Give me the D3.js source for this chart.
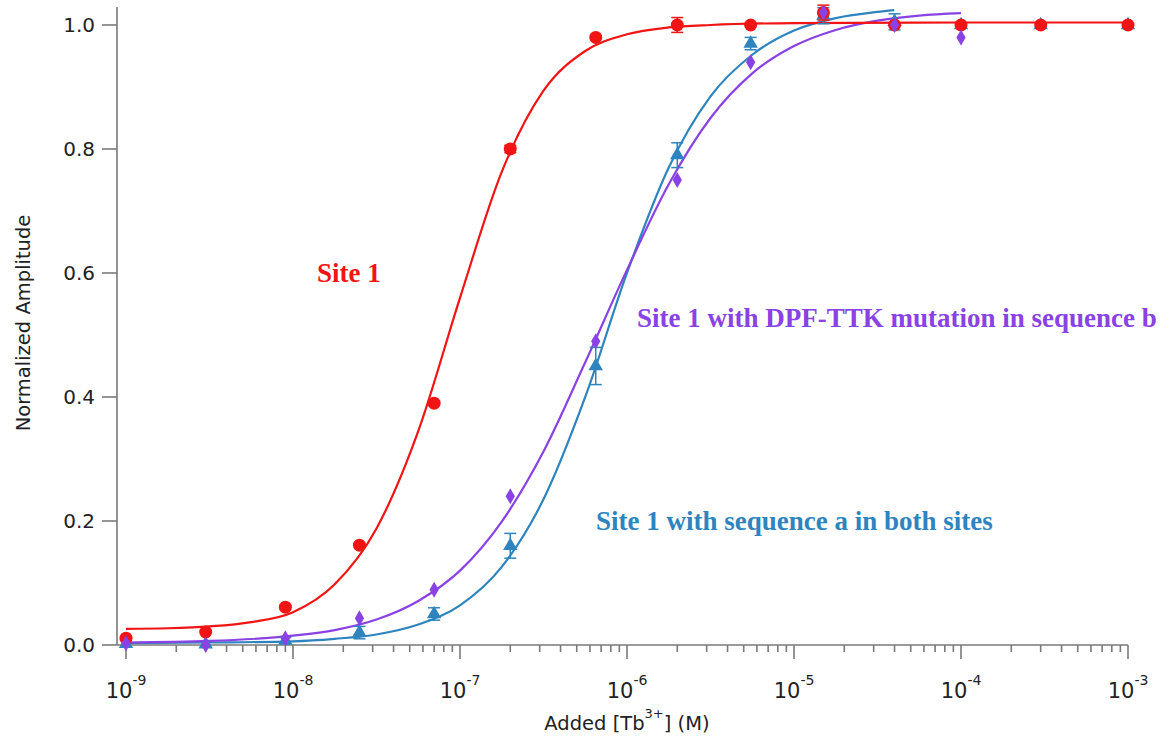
<!DOCTYPE html>
<html>
<head>
<meta charset="utf-8">
<script src="https://cdn.jsdelivr.net/npm/d3@7"></script>
<style>
  html, body { margin: 0; padding: 0; background: #fff; }
  svg { display: block; }
</style>
</head>
<body>
<svg id="chart" width="1175" height="740"></svg>
<script>
// Tb3+ titration: normalized amplitude vs. added [Tb3+]

// x-axis decades (exponents of 10) and y-axis ticks
const xDecades = [-9, -8, -7, -6, -5, -4, -3];
const yTickValues = [0, 0.2, 0.4, 0.6, 0.8, 1.0];

// measured concentrations (M)
const concentrations = [1e-9, 3e-9, 9e-9, 2.5e-8, 7e-8, 2e-7, 6.5e-7, 2e-6, 5.5e-6, 1.5e-5, 4e-5, 1e-4, 3e-4, 1e-3];

// Site 1
const site1Amp = [0.011, 0.021, 0.061, 0.161, 0.39, 0.80, 0.98, 1.0, 1.0, 1.02, 1.0, 1.0, 1.0, 1.0];
const site1Err = [0, 0, 0, 0, 0, 0.006, 0, 0.012, 0, 0.012, 0, 0, 0, 0];

// Site 1 with sequence a in both sites
const seqAAmp = [0.002, 0.001, 0.007, 0.02, 0.05, 0.16, 0.45, 0.79, 0.97, 1.015, 1.005, 1.0, 1.0, 1.0];
const seqAErr = [0, 0, 0.005, 0.01, 0.01, 0.02, 0.03, 0.02, 0.01, 0.013, 0.013, 0, 0, 0];

// Site 1 with DPF-TTK mutation in sequence b (measured up to 1e-4 M)
const dpfAmp = [0.003, 0.0, 0.011, 0.043, 0.089, 0.24, 0.49, 0.75, 0.94, 1.02, 1.0, 0.98];

// fitted binding curves, sampled at log10 concentration
const site1FitLog = [-9, -8.75, -8.5, -8.25, -8, -7.75, -7.5, -7.25, -7, -6.75, -6.5, -6.25, -6, -5.75, -5.5, -5, -4, -3];
const site1FitAmp = [0.026, 0.027, 0.030, 0.037, 0.053, 0.098, 0.188, 0.345, 0.560, 0.763, 0.894, 0.958, 0.985, 0.996, 1.000, 1.003, 1.004, 1.004];

const seqAFitLog = [-9, -8.5, -8, -7.75, -7.5, -7.25, -7, -6.75, -6.5, -6.25, -6, -5.75, -5.5, -5.25, -5, -4.75, -4.5, -4.4];
const seqAFitAmp = [0.003, 0.004, 0.006, 0.010, 0.017, 0.033, 0.064, 0.126, 0.235, 0.400, 0.600, 0.770, 0.885, 0.952, 0.991, 1.011, 1.021, 1.024];

const dpfFitLog = [-9, -8.5, -8, -7.75, -7.5, -7.25, -7, -6.75, -6.5, -6.25, -6, -5.75, -5.5, -5.25, -5, -4.75, -4.5, -4.25, -4];
const dpfFitAmp = [0.004, 0.0065, 0.015, 0.024, 0.041, 0.071, 0.120, 0.199, 0.312, 0.456, 0.605, 0.743, 0.850, 0.922, 0.966, 0.992, 1.007, 1.015, 1.019];

const colors = { site1: "#f01414", seqA: "#2e84bf", dpf: "#8a42e4" };
const axisColor = "#7a7a7a";

const svg = d3.select("#chart");

const x = d3.scaleLog().domain([1e-9, 1e-3]).range([126, 1128]);
const y = d3.scaleLinear().domain([0, 1.029]).range([645, 7]);
const axisLeftX = 117;

// ---- axes ----
const axes = svg.append("g").attr("stroke", axisColor).attr("stroke-width", 1.6).attr("fill", "none");

// axis lines
axes.append("line").attr("x1", axisLeftX).attr("x2", axisLeftX).attr("y1", y.range()[1]).attr("y2", y(0));
axes.append("line").attr("x1", axisLeftX).attr("x2", x(1e-3)).attr("y1", y(0)).attr("y2", y(0));

// y ticks
yTickValues.forEach(v => {
  axes.append("line").attr("x1", axisLeftX - 15).attr("x2", axisLeftX).attr("y1", y(v)).attr("y2", y(v));
});

// x major and minor ticks
xDecades.forEach((e, i) => {
  const base = Math.pow(10, e);
  axes.append("line").attr("x1", x(base)).attr("x2", x(base)).attr("y1", y(0)).attr("y2", y(0) + 14);
  if (i < xDecades.length - 1) {
    for (let m = 2; m <= 9; m++) {
      const xv = x(base * m);
      axes.append("line").attr("x1", xv).attr("x2", xv).attr("y1", y(0)).attr("y2", y(0) + 7);
    }
  }
});

// tick labels
const labels = svg.append("g").attr("font-family", "'DejaVu Sans', sans-serif").attr("fill", "#222");

yTickValues.forEach(v => {
  labels.append("text")
    .attr("x", 95).attr("y", y(v)).attr("dy", "0.36em")
    .attr("text-anchor", "end").attr("font-size", 20)
    .text(d3.format(".1f")(v));
});

xDecades.forEach(e => {
  const t = labels.append("text")
    .attr("x", x(Math.pow(10, e))).attr("y", 698)
    .attr("text-anchor", "middle").attr("font-size", 21);
  t.append("tspan").text("10");
  t.append("tspan").attr("dy", -13).attr("font-size", 14).text(String(e));
});

// axis titles
const xTitle = labels.append("text")
  .attr("x", (x.range()[0] + x.range()[1]) / 2).attr("y", 730)
  .attr("text-anchor", "middle").attr("font-size", 19.5);
xTitle.append("tspan").text("Added [Tb");
xTitle.append("tspan").attr("dy", -12).attr("font-size", 13).text("3+");
xTitle.append("tspan").attr("dy", 12).text("] (M)");

labels.append("text")
  .attr("transform", "translate(30,323) rotate(-90)")
  .attr("text-anchor", "middle").attr("font-size", 19.5)
  .text("Normalized Amplitude");

// ---- fitted curves ----
const fitLine = d3.line()
  .x(d => x(Math.pow(10, d[0])))
  .y(d => y(d[1]))
  .curve(d3.curveMonotoneX);

const curves = svg.append("g").attr("fill", "none").attr("stroke-width", 2.2);
curves.append("path").attr("stroke", colors.seqA).attr("d", fitLine(d3.zip(seqAFitLog, seqAFitAmp)));
curves.append("path").attr("stroke", colors.dpf).attr("d", fitLine(d3.zip(dpfFitLog, dpfFitAmp)));
curves.append("path").attr("stroke", colors.site1).attr("d", fitLine(d3.zip(site1FitLog, site1FitAmp)));

// ---- data points ----
function errorBars(g, conc, amp, err, color) {
  conc.forEach((c, i) => {
    if (!err[i]) return;
    const cx = x(c), top = y(amp[i] + err[i]), bot = y(amp[i] - err[i]);
    g.append("line").attr("x1", cx).attr("x2", cx).attr("y1", top).attr("y2", bot).attr("stroke", color).attr("stroke-width", 1.5);
    [top, bot].forEach(yy => g.append("line").attr("x1", cx - 6).attr("x2", cx + 6).attr("y1", yy).attr("y2", yy).attr("stroke", color).attr("stroke-width", 1.5));
  });
}

const pts = svg.append("g");

// sequence a: triangles with error bars
const triangle = d3.symbol().type(d3.symbolTriangle).size(90);
const gSeqA = pts.append("g");
errorBars(gSeqA, concentrations, seqAAmp, seqAErr, colors.seqA);
gSeqA.selectAll("path.tri").data(d3.zip(concentrations, seqAAmp)).join("path")
  .attr("class", "tri")
  .attr("transform", d => `translate(${x(d[0])},${y(d[1])})`)
  .attr("d", triangle).attr("fill", colors.seqA);

// site 1: circles
const gSite1 = pts.append("g");
errorBars(gSite1, concentrations, site1Amp, site1Err, colors.site1);
gSite1.selectAll("circle").data(d3.zip(concentrations, site1Amp)).join("circle")
  .attr("cx", d => x(d[0])).attr("cy", d => y(d[1])).attr("r", 6.5)
  .attr("fill", colors.site1);

// DPF-TTK mutant: diamonds
const diamond = d3.symbol().type(d3.symbolDiamond).size(74);
pts.append("g").selectAll("path").data(d3.zip(concentrations.slice(0, dpfAmp.length), dpfAmp)).join("path")
  .attr("transform", d => `translate(${x(d[0])},${y(d[1])})`)
  .attr("d", diamond).attr("fill", colors.dpf);

// ---- curve labels ----
const notes = svg.append("g")
  .attr("font-family", "'Liberation Serif', 'Times New Roman', serif")
  .attr("font-weight", "bold").attr("font-size", 27);
notes.append("text").attr("x", 317).attr("y", 282).attr("fill", colors.site1).text("Site 1");
notes.append("text").attr("x", 637).attr("y", 327).attr("fill", colors.dpf).text("Site 1 with DPF-TTK mutation in sequence b");
notes.append("text").attr("x", 596).attr("y", 530).attr("fill", colors.seqA).text("Site 1 with sequence a in both sites");
</script>
</body>
</html>
